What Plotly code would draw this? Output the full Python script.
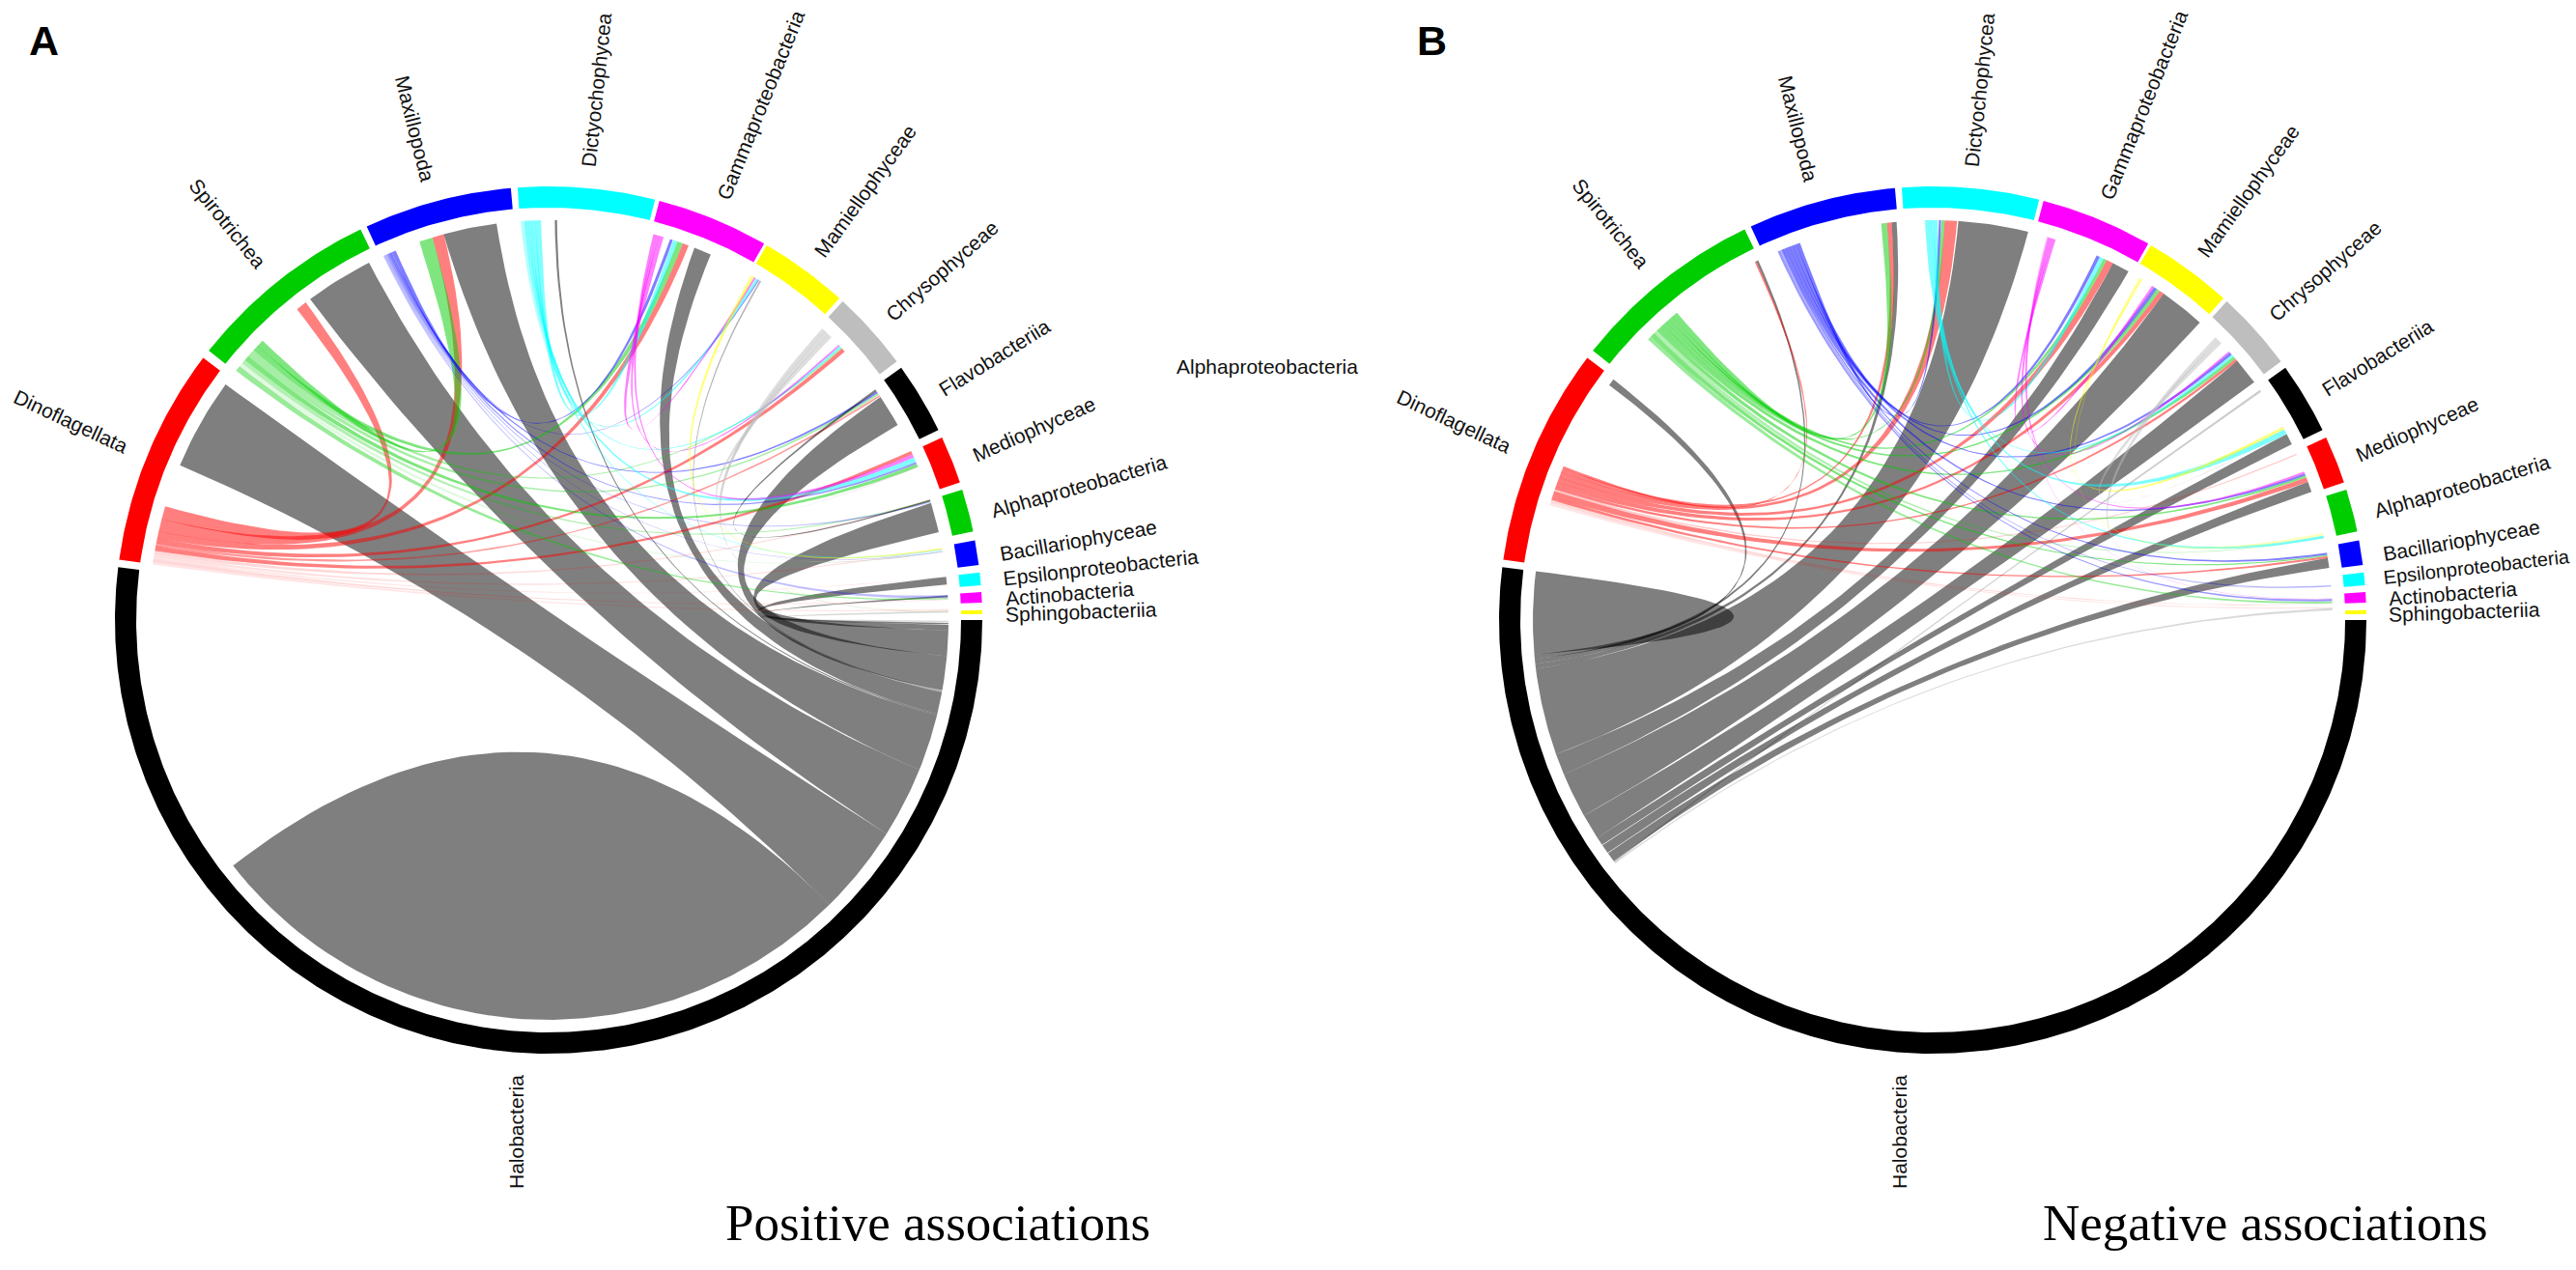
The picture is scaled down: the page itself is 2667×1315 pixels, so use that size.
import numpy as np
import plotly.graph_objects as go

# ---- sectors (clockwise from 0 degrees), sizes and gaps in ring degrees
sector_names = ["Halobacteria", "Dinoflagellata", "Spirotrichea", "Maxillopoda", "Dictyochophycea",
                "Gammaproteobacteria", "Mamiellophyceae", "Chrysophyceae", "Flavobacteriia", "Mediophyceae",
                "Alphaproteobacteria", "Bacillariophyceae", "Epsilonproteobacteria", "Actinobacteria",
                "Sphingobacteriia"]
sector_sizes = [187, 29.2, 25.9, 19.8, 18.3, 15, 11.9, 10.7, 9.6, 6.4, 5.7, 3.3, 1.7, 1.4, 0.5]
sector_gaps = [1, 1.2, 0.9, 0.9, 0.6, 0.4, 0.6, 1, 1.1, 1, 1.2, 1, 0.9, 1, 0.8]
sector_colors = ["#000000", "#FF0000", "#00CD00", "#0000FF", "#00FFFF", "#FF00FF", "#FFFF00", "#BEBEBE",
                 "#000000", "#FF0000", "#00CD00", "#0000FF", "#00FFFF", "#FF00FF", "#FFFF00"]

# ---- links: (foot 1 from, foot 1 to, foot 2 from, foot 2 to, opacity), ring degrees
a_black = [
    (157.2, 143.9, -32.3, -45.4, .5), (126.6, 116.7, -22, -32.3, .5), (105.2, 97.5, -13.8, -22, .5),
    (89.1, 88.8, -13.6, -13.8, .5), (68.6, 66.1, -10.4, -13.6, .5), (58.1, 57.9, -10.1, -10.4, .3),
    (33.9, 29.2, -5.2, -10.1, .5), (17, 12.7, -1.5, -5.2, .5), (6.2, 5.1, -.6, -1.5, .5),
    (3.5, 3.3, -.3, -.6, .5), (1.35, 1.1, 0, -.3, .15),
]
a_self = [(-45.4, -93.7, -93.7, -142.1, .5)]
a_red = [
    (165.4, 163.5, 129, 127.4, .5), (167.2, 165.4, 106.9, 105.2, .5), (168.2, 167.2, 70.4, 69.5, .5),
    (168.9, 168.2, 42.8, 42.2, .5), (169.3, 168.9, 34.3, 34, .4), (170, 169.3, 25, 24.5, .5),
    (170.5, 170, 17.6, 17.4, .15), (170.9, 170.5, 10.4, 10.2, .12), (171.2, 170.9, 6.3, 6.2, .1),
    (171.6, 171.2, 3.0, 2.9, .15), (172, 171.6, 1.6, 1.4, .1),
]
a_green = [
    (136.7, 135.7, 108.9, 106.9, .5), (137.5, 136.7, 71.2, 70.4, .5), (138.1, 137.5, 43, 42.8, .35),
    (138.7, 138.1, 34.6, 34.3, .35), (139.4, 138.7, 23, 22.5, .5), (140, 139.4, 17.5, 17.3, .3),
    (140.6, 140, 9.9, 9.8, .12), (141.4, 140.6, 3.2, 3.0, .4),
]
a_blue = [
    (113, 112.5, 72.4, 71.9, .5), (113.2, 113, 58.4, 58.2, .4), (113.5, 113.2, 34.9, 34.6, .5),
    (113.8, 113.5, 23.3, 23, .4), (114, 113.8, 17.3, 17.1, .3), (114.2, 114, 9.9, 9.8, .25),
    (114.4, 114.2, 3.6, 3.2, .25),
]
a_cyan = [
    (91.9, 91.1, 71.9, 71.2, .5), (92.5, 91.9, 58.8, 58.4, .5), (92.9, 92.5, 43.3, 43, .5),
    (93.5, 92.9, 24, 23.3, .5), (94, 93.5, 10.2, 10, .3),
]
a_magenta = [(74, 73.3, 59.1, 58.8, .5), (74.4, 74, 43.6, 43.3, .5), (74.8, 74.4, 24.5, 24, .5)]
a_yellow = [(59.5, 59.1, 10.4, 10.2, .5), (59.7, 59.5, 1.3, 1.2, .1)]
a_gray = [(45.6, 45, 22.6, 22.5, .5), (46.2, 45.6, 9.9, 9.8, .5), (46.8, 46.2, 1.2, 1.1, .5)]
a_flav = [(35.2, 34.9, 17.5, 17.3, .5)]

b_black = [
    (144, 143, -174.4, -175, .5), (116.2, 115.9, -173.7, -174.4, .5), (95.9, 95.2, -173, -173.7, .5),
    (86.3, 76.2, -160.4, -173, .5), (63.2, 60.7, -157.3, -160.4, .5), (54.7, 48.1, -150.7, -157.3, .5),
    (40.4, 36.5, -147, -150.7, .5), (27.7, 26.1, -145.7, -147, .5), (20.2, 18.7, -144.3, -145.7, .5),
    (8.9, 7.5, -142.9, -144.3, .5), (35.1, 34.8, -142.7, -142.9, .2), (1.7, 1.4, -142.5, -142.7, .15),
]
b_self = [(-175, -181, -181, -187, .5)]
b_red = [
    (157.7, 157.4, 116.5, 116.2, .5), (158.3, 157.7, 96.6, 95.9, .5), (159.1, 158.3, 88.3, 86.5, .5),
    (159.8, 159.1, 64.2, 63.2, .5), (160.5, 159.8, 55.4, 54.7, .5), (160.9, 160.5, 40.8, 40.4, .5),
    (161.2, 160.9, 24.6, 24.4, .2), (162.1, 161.2, 20.9, 20.2, .5), (162.5, 162.1, 9.2, 8.9, .5),
    (162.9, 162.5, 2.4, 2.3, .15), (163.3, 162.9, 1.9, 1.7, .1),
]
b_green = [
    (130.6, 129.8, 97.5, 96.6, .5), (131.2, 130.6, 88.8, 88.3, .5), (131.8, 131.2, 64.7, 64.2, .5),
    (132.4, 131.8, 55.9, 55.4, .5), (133, 132.4, 41.2, 40.8, .5), (133.6, 133, 21.2, 20.9, .5),
    (134.2, 133.6, 12, 11.9, .3), (134.8, 134.2, 9.4, 9.2, .5), (135.4, 134.8, 2.7, 2.4, .4),
]
b_blue = [
    (109.9, 109.4, 89.2, 88.8, .5), (110.5, 109.9, 65.8, 65.3, .5), (111, 110.5, 56.4, 55.9, .5),
    (111.5, 111, 42, 41.6, .5), (112, 111.5, 21.5, 21.2, .5), (112.2, 112, 9.7, 9.4, .5),
    (112.5, 112.2, 5, 4.8, .3), (112.8, 112.5, 3, 2.7, .4),
]
b_cyan = [(89.8, 89.3, 65.3, 64.7, .5), (90.2, 89.8, 41.6, 41.2, .5), (90.7, 90.2, 28.5, 27.7, .5),
          (91.1, 90.7, 12.2, 11.8, .5)]
b_magenta = [(72.5, 72.1, 56.8, 56.4, .5), (72.9, 72.5, 42.3, 42, .5), (73.2, 72.9, 21.8, 21.5, .5),
             (73.4, 73.2, 3.1, 3, .3)]
b_yellow = [(58.7, 58.4, 29, 28.5, .5), (58.9, 58.7, 12.6, 12.2, .25)]
b_gray = [(44.4, 43.8, 27.9, 27.8, .5), (45, 44.4, 5, 4.9, .5)]

panel_a_groups = [("#000000", a_black), ("#FF0000", a_red), ("#00CD00", a_green), ("#0000FF", a_blue),
                  ("#00FFFF", a_cyan), ("#FF00FF", a_magenta), ("#FFFF00", a_yellow), ("#BEBEBE", a_gray),
                  ("#000000", a_flav)]
panel_b_groups = [("#000000", b_black), ("#FF0000", b_red), ("#00CD00", b_green), ("#0000FF", b_blue),
                  ("#00FFFF", b_cyan), ("#FF00FF", b_magenta), ("#FFFF00", b_yellow), ("#BEBEBE", b_gray)]

# ---- label text placement
label_a_x = [534, 74, 236, 430, 617, 787, 895, 975, 1029, 1070, 1117, 1116, 1139, 1107, 1119]
label_y = [1172, 436, 231, 133, 93, 109, 198, 280, 370, 444, 503, 559, 587, 614, 633]
label_angle = [-90, 25, 51, 76, -84, -68, -54, -41, -32, -24, -16, -10, -6.5, -4.5, -2]
label_b_x = [v + 1432 for v in label_a_x]
label_b_x[12] = 2564

CX_A, CX_B, CY = 568, 2001, 642
R_OUT, R_IN, R_LINK = 449, 427, 414
K = 0.05
SEAM = 0.015


def pol(cx, r, deg):
    t = np.radians(deg)
    return cx + r * np.cos(t), CY - r * np.sin(t)


def bez(cx, d0, d1, k):
    t = np.linspace(0, 1, 50)
    x0, y0 = R_LINK * np.cos(np.radians(d0)), R_LINK * np.sin(np.radians(d0))
    x2, y2 = R_LINK * np.cos(np.radians(d1)), R_LINK * np.sin(np.radians(d1))
    cx1, cy1 = k * (x0 + x2) / 2, k * (y0 + y2) / 2
    px = (1 - t) ** 2 * x0 + 2 * t * (1 - t) * cx1 + t ** 2 * x2
    py = (1 - t) ** 2 * y0 + 2 * t * (1 - t) * cy1 + t ** 2 * y2
    return cx + px, CY - py


def rgba(h, a):
    return f"rgba({int(h[1:3],16)},{int(h[3:5],16)},{int(h[5:7],16)},{a})"


fig = go.Figure()


def add_poly(xs, ys, color):
    fig.add_trace(go.Scatter(x=xs, y=ys, mode="lines", fill="toself", fillcolor=color,
                             line=dict(width=0, color=color), hoverinfo="skip", showlegend=False))


def add_link(cx, link, hexcolor, k=K, seam=SEAM):
    a0, a1, b0, b1, op = link
    a0, a1 = a0 + seam, a1 - seam
    xa, ya = pol(cx, R_LINK, np.linspace(a0, a1, 12))
    xb, yb = pol(cx, R_LINK, np.linspace(b0, b1, 30))
    x1, y1 = bez(cx, a1, b0, k)
    x2, y2 = bez(cx, b1, a0, k)
    add_poly(np.r_[xa, x1, xb, x2], np.r_[ya, y1, yb, y2], rgba(hexcolor, op))


def add_ring(cx):
    start = 0.0
    for size, gap, col in zip(sector_sizes, sector_gaps, sector_colors):
        d = np.linspace(start, start - size, max(int(size * 2), 6))
        xo, yo = pol(cx, R_OUT, d)
        xi, yi = pol(cx, R_IN, d[::-1])
        add_poly(np.r_[xo, xi], np.r_[yo, yi], col)
        start -= size + gap


add_ring(CX_A)
for col, links in panel_a_groups:
    for l in links:
        add_link(CX_A, l, col)
for l in a_self:
    add_link(CX_A, l, "#000000", k=0, seam=0)

add_ring(CX_B)
for l in b_self:
    add_link(CX_B, l, "#000000", k=0, seam=0)
for col, links in panel_b_groups:
    for l in links:
        add_link(CX_B, l, col)

ann = []
for xs in (label_a_x, label_b_x):
    for name, x, y, ang in zip(sector_names, xs, label_y, label_angle):
        size = 20 if (x == 2564) else 21
        ann.append(dict(x=x, y=y, text=name, textangle=ang, showarrow=False, xanchor="center", yanchor="middle",
                        font=dict(family="Liberation Sans", size=size, color="#111111")))
ann.append(dict(x=1312, y=379, text="Alphaproteobacteria", showarrow=False,
                font=dict(family="Liberation Sans", size=21, color="#111111")))
ann.append(dict(x=45, y=42, text="<b>A</b>", showarrow=False, font=dict(family="Liberation Sans", size=43, color="#000")))
ann.append(dict(x=1482, y=42, text="<b>B</b>", showarrow=False, font=dict(family="Liberation Sans", size=43, color="#000")))
ann.append(dict(x=971, y=1266, text="Positive associations", showarrow=False,
                font=dict(family="Liberation Serif", size=53, color="#000")))
ann.append(dict(x=2345, y=1266, text="Negative associations", showarrow=False,
                font=dict(family="Liberation Serif", size=53, color="#000")))

fig.update_layout(
    width=2667, height=1315, margin=dict(l=0, r=0, t=0, b=0), paper_bgcolor="white", plot_bgcolor="white",
    xaxis=dict(range=[0, 2667], visible=False, fixedrange=True),
    yaxis=dict(range=[1315, 0], visible=False, fixedrange=True),
    annotations=ann, showlegend=False,
)
fig.write_html("out.html", config={"displayModeBar": False}, post_script="document.body.style.margin='0';")
